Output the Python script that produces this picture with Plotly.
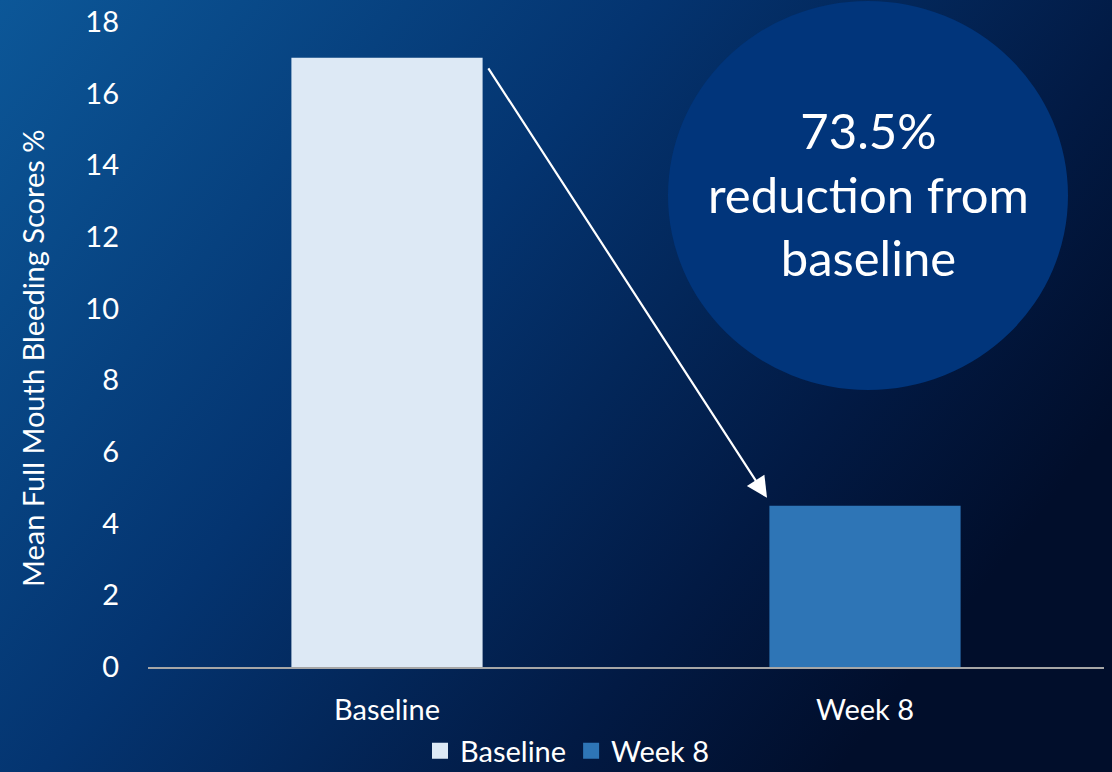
import base64
import plotly.graph_objects as go

# ---- data ----
categories = ["Baseline", "Week 8"]
values = [17.0, 4.5]
series_colors = ["#dde9f5", "#2e75b6"]
y_ticks = [0, 2, 4, 6, 8, 10, 12, 14, 16, 18]
y_title = "Mean Full Mouth Bleeding Scores %"
callout = "73.5%<br>reduction from<br>baseline"

W, H = 1112, 772
L, R, T, B = 148, 8, 22, 105
PW, PH = W - L - R, H - T - B

FONT = "Lato"

fig = go.Figure()
for cat, val, col in zip(categories, values, series_colors):
    fig.add_trace(go.Bar(x=[cat], y=[val], name=cat, width=0.4,
                         marker=dict(color=col, line=dict(width=0)),
                         showlegend=False, hoverinfo="x+y"))
# legend entries with larger square swatches
for cat, col in zip(categories, series_colors):
    fig.add_trace(go.Scatter(x=[None], y=[None], mode="markers", name=cat,
                             marker=dict(symbol="square", size=18, color=col),
                             showlegend=True, hoverinfo="skip"))

# background gradient via svg image
svg = ('<svg xmlns="http://www.w3.org/2000/svg" width="1112" height="772" preserveAspectRatio="none">'
       '<defs><linearGradient id="g" x1="0" y1="0" x2="1" y2="0.55">'
       '<stop offset="0" stop-color="#0c5798"/>'
       '<stop offset="0.45" stop-color="#043470"/>'
       '<stop offset="0.8" stop-color="#021a44"/>'
       '<stop offset="1" stop-color="#010e2b"/>'
       '</linearGradient></defs>'
       '<rect width="1112" height="772" fill="url(#g)"/></svg>')
src = "data:image/svg+xml;base64," + base64.b64encode(svg.encode()).decode()

def px(xp):
    return (xp - L) / PW

def py(yp):
    return (T + PH - yp) / PH

fig.add_layout_image(dict(source=src, xref="paper", yref="paper",
                          x=px(0), y=py(0), sizex=W / PW, sizey=H / PH,
                          sizing="stretch", layer="below",
                          xanchor="left", yanchor="top"))

# callout circle
fig.add_shape(type="circle", xref="paper", yref="paper",
              x0=px(668), x1=px(1068), y0=py(390), y1=py(1),
              fillcolor="#01357b", line=dict(width=0), layer="above")
fig.add_annotation(xref="paper", yref="paper", x=px(868), y=py(193),
                   text=callout, showarrow=False,
                   font=dict(family=FONT, size=49, color="white"),
                   xanchor="center", yanchor="middle", align="center")

# arrow from baseline bar top to week 8 bar
fig.add_annotation(x=0.795, y=4.72, ax=0.21, ay=16.75,
                   xref="x", yref="y", axref="x", ayref="y",
                   text="", showarrow=True, arrowhead=2, arrowsize=1.9,
                   arrowwidth=2.2, arrowcolor="white")

# y-axis title
fig.add_annotation(xref="paper", yref="paper", x=px(33), y=py(359),
                   text=y_title, showarrow=False, textangle=-90,
                   font=dict(family=FONT, size=29, color="white"),
                   xanchor="center", yanchor="middle")

fig.update_layout(
    width=W, height=H, autosize=False,
    margin=dict(l=L, r=R, t=T, b=B, autoexpand=False),
    paper_bgcolor="#03285a", plot_bgcolor="rgba(0,0,0,0)",
    barmode="overlay",
    font=dict(family=FONT, size=29, color="white"),
    showlegend=True,
    legend=dict(orientation="h", x=px(420), y=py(751), xanchor="left",
                yanchor="middle", font=dict(family=FONT, size=29, color="white"),
                bgcolor="rgba(0,0,0,0)", itemwidth=30, traceorder="normal",
                tracegroupgap=0, borderwidth=0),
    xaxis=dict(type="category", range=[-0.5, 1.5], showgrid=False,
               showline=True, linecolor="#a6a6a6", linewidth=2,
               ticks="", ticklabelstandoff=16, zeroline=False,
               automargin=False,
               tickfont=dict(family=FONT, size=29, color="white")),
    yaxis=dict(range=[0, 18], tickvals=y_ticks, showgrid=False,
               showline=False, zeroline=False, ticks="",
               ticklabelstandoff=28, automargin=False,
               tickfont=dict(family=FONT, size=29, color="white")),
)

post = ("document.body.style.margin='0';document.body.style.padding='0';"
        "document.documentElement.style.overflow='hidden';"
        "document.body.style.overflow='hidden';"
        "var gd=document.getElementById('{plot_id}');"
        "Plotly.relayout(gd,{width:1112,height:772});")

fig.write_html("out.html", post_script=post, config={"displayModeBar": False})
